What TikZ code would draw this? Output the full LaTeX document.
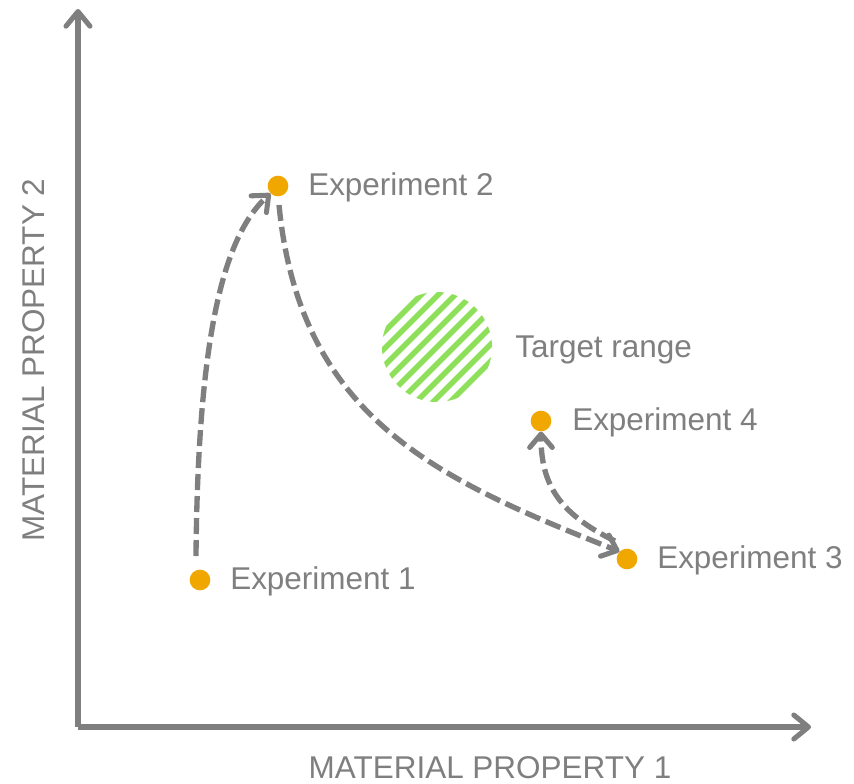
\documentclass[tikz,border=0pt]{standalone}
\usepackage{fontspec}
\setmainfont{Liberation Sans}
\usetikzlibrary{arrows.meta,calc}
\definecolor{axgray}{HTML}{7F7F7F}
\definecolor{dotorange}{HTML}{F0A800}
\definecolor{hatchgreen}{HTML}{8EE05A}
\begin{document}
\begin{tikzpicture}[x=0.75pt,y=-0.75pt,
  axis/.style={draw=axgray,line width=3.8pt,-{Straight Barb[length=11pt,width=18pt,line width=3.8pt,line cap=round,round]}},
  flow/.style={draw=axgray,line width=4pt,dash pattern=on 12pt off 4.5pt,-{Straight Barb[length=10pt,width=17pt,line width=3.8pt,line cap=round,round]}},
  expdot/.style={circle,fill=dotorange,inner sep=0pt,minimum size=15.5pt},
  lbl/.style={text=axgray,font=\fontsize{23.6}{28}\selectfont,inner sep=0pt}]
\useasboundingbox (0,0) rectangle (854,783);
% axes
\coordinate (O) at (78,727);
\coordinate (ytop) at (78,9);
\coordinate (xend) at (811,727);
\draw[axis] (O) -- (ytop);
\draw[axis] (O) -- (xend);
\node[lbl,anchor=base] (xl) at (490,778) {MATERIAL PROPERTY 1};
\node[lbl,anchor=base,rotate=90] (yl) at (45,360) {MATERIAL PROPERTY 2};
% target range
\begin{scope}
  \clip (437,347) circle (55);
  \foreach \k in {-8,...,8} {
    \draw[hatchgreen,line width=4pt] ($(437,347)+(\k*17,0)+(-80,80)$) -- ++(160,-160);
  }
\end{scope}
\node[lbl,anchor=west] (tr) at (515,350) {Target range};
% experiments
\node[expdot] (e1) at (200,580) {};
\node[expdot] (e2) at (278,186) {};
\node[expdot] (e3) at (627,559) {};
\node[expdot] (e4) at (541,421) {};
\node[lbl,anchor=west] (l1) at (230,581) {Experiment 1};
\node[lbl,anchor=west] (l2) at (308,187) {Experiment 2};
\node[lbl,anchor=west] (l3) at (657,560) {Experiment 3};
\node[lbl,anchor=west] (l4) at (572,422) {Experiment 4};
% connectors
\coordinate (s1) at (196,556);
\coordinate (s2) at (279,205);
\coordinate (s3) at (615,541);
\draw[flow] (s1) .. controls (198,330) and (225,235) .. (e2.south west);
\draw[flow] (s2) .. controls (300,420) and (440,480) .. (e3.north west);
\draw[flow] (s3) .. controls (555,512) and (541,480) .. (e4.south);
\end{tikzpicture}
\end{document}
